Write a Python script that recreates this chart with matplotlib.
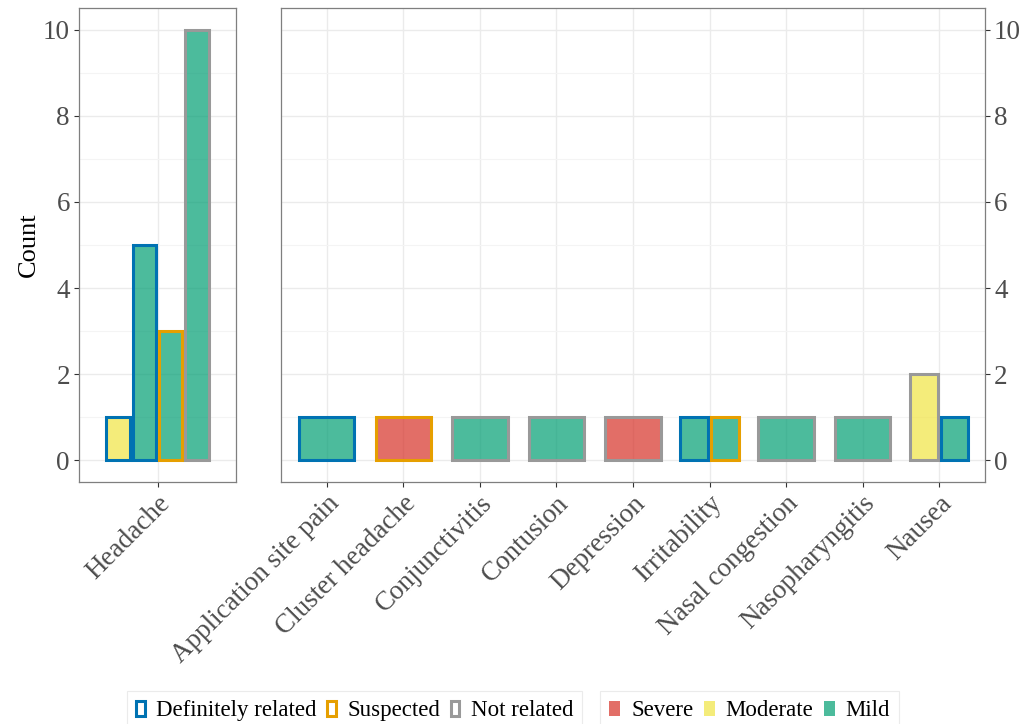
import matplotlib
matplotlib.use("Agg")
import matplotlib.pyplot as plt
from matplotlib.patches import Patch

# --- data -------------------------------------------------------------
left_terms = ["Headache"]
right_terms = ["Application site pain", "Cluster headache", "Conjunctivitis",
               "Contusion", "Depression", "Irritability", "Nasal congestion",
               "Nasopharyngitis", "Nausea"]

bar_term = ["Headache", "Headache", "Headache", "Headache",
            "Application site pain", "Cluster headache", "Conjunctivitis",
            "Contusion", "Depression", "Irritability", "Irritability",
            "Nasal congestion", "Nasopharyngitis", "Nausea", "Nausea"]
bar_relation = ["Definitely related", "Definitely related", "Suspected", "Not related",
                "Definitely related", "Suspected", "Not related",
                "Not related", "Not related", "Definitely related", "Suspected",
                "Not related", "Not related", "Not related", "Definitely related"]
bar_severity = ["Moderate", "Mild", "Mild", "Mild",
                "Mild", "Severe", "Mild",
                "Mild", "Severe", "Mild", "Mild",
                "Mild", "Mild", "Moderate", "Mild"]
bar_count = [1, 5, 3, 10,
             1, 1, 1,
             1, 1, 1, 1,
             1, 1, 2, 1]

relation_levels = ["Definitely related", "Suspected", "Not related"]
severity_levels = ["Severe", "Moderate", "Mild"]
y_ticks = [0, 2, 4, 6, 8, 10]

# --- styling ----------------------------------------------------------
relation_colors = {"Definitely related": "#0072B2",
                   "Suspected": "#E69F00",
                   "Not related": "#999999"}
severity_colors = {"Severe": "#D73027",
                   "Moderate": "#F0E442",
                   "Mild": "#009E73"}
FILL_ALPHA = 0.7
EDGE_LW = 2.2
SERIF = ["Liberation Serif", "DejaVu Serif"]
TEXT_GREY = "#4D4D4D"

plt.rcParams["font.family"] = SERIF

fig = plt.figure(figsize=(10.34, 7.24), dpi=100)
W, H = 1034.0, 724.0
ax_l = fig.add_axes([79 / W, 1 - 482 / H, 157 / W, 474 / H])
ax_r = fig.add_axes([281 / W, 1 - 482 / H, 704 / W, 474 / H])


def draw_panel(ax, terms):
    pos = {t: i + 1 for i, t in enumerate(terms)}
    dodge_width = 0.8
    padding = 0.1
    for t in terms:
        idx = [k for k, bt in enumerate(bar_term) if bt == t]
        n = len(idx)
        slot = dodge_width / n
        for j, k in enumerate(idx):
            xc = pos[t] - dodge_width / 2 + slot * (j + 0.5)
            fc = matplotlib.colors.to_rgba(severity_colors[bar_severity[k]], FILL_ALPHA)
            ax.bar(xc, bar_count[k], width=slot * (1 - padding), bottom=0,
                   facecolor=fc, edgecolor=relation_colors[bar_relation[k]],
                   linewidth=EDGE_LW, joinstyle="miter", zorder=3)
    ax.set_xlim(0.4, len(terms) + 0.6)
    ax.set_ylim(-0.5, 10.5)
    ax.set_xticks(list(pos.values()))
    ax.set_xticklabels(terms, rotation=45, ha="right", va="top",
                       rotation_mode="anchor", fontsize=19.5, color=TEXT_GREY)
    ax.set_yticks(y_ticks)
    ax.set_yticks([1, 3, 5, 7, 9], minor=True)
    ax.set_yticklabels([str(v) for v in y_ticks], fontsize=19.5, color=TEXT_GREY)
    ax.grid(True, which="major", color="#EBEBEB", linewidth=1.0, zorder=0)
    ax.grid(True, which="minor", axis="y", color="#F4F4F4", linewidth=0.8, zorder=0)
    ax.set_axisbelow(True)
    ax.tick_params(axis="both", which="major", length=3.5, width=0.8,
                   color="#333333", pad=3)
    ax.tick_params(axis="y", which="minor", length=0)
    for s in ax.spines.values():
        s.set_color("#7F7F7F")
        s.set_linewidth(0.9)


draw_panel(ax_l, left_terms)
draw_panel(ax_r, right_terms)

ax_r.yaxis.tick_right()
ax_r.yaxis.set_label_position("right")

ax_l.set_ylabel("Count", fontsize=19, color="black", labelpad=2)

# --- legends ----------------------------------------------------------
rel_handles = [Patch(facecolor="white", edgecolor=relation_colors[r],
                     linewidth=EDGE_LW, label=r) for r in relation_levels]
sev_handles = [Patch(facecolor=matplotlib.colors.to_rgba(severity_colors[s], FILL_ALPHA),
                     edgecolor="none", label=s) for s in severity_levels]

leg_kw = dict(ncol=3, frameon=True, fancybox=False, fontsize=16.5,
              handleheight=0.62, columnspacing=0.45, borderpad=0.4,
              borderaxespad=0.0, loc="upper left")

leg1 = fig.legend(handles=rel_handles, bbox_to_anchor=(127 / W, 1 - 691 / H),
                  handlelength=0.38, handletextpad=0.5, **leg_kw)
leg2 = fig.legend(handles=sev_handles, bbox_to_anchor=(600 / W, 1 - 691 / H),
                  handlelength=0.48, handletextpad=0.48, **leg_kw)
for leg in (leg1, leg2):
    leg.get_frame().set_edgecolor("#E6E6E6")
    leg.get_frame().set_linewidth(0.8)

fig.savefig("out.png", dpi=100)
